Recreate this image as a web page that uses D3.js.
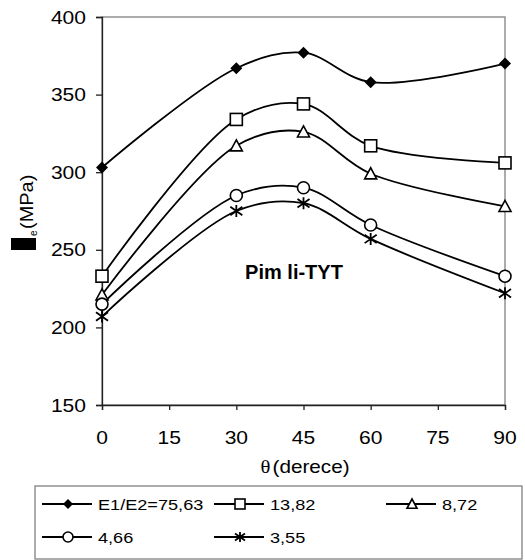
<!DOCTYPE html>
<html>
<head>
<meta charset="utf-8">
<script src="https://cdn.jsdelivr.net/npm/d3@7"></script>
<style>
  body { margin: 0; background: #fff; }
  svg text { font-family: "Liberation Sans", Arial, sans-serif; fill: #000; }
</style>
</head>
<body>
<svg id="canvas" width="525" height="560"></svg>
<script>
// data
var angles = [0, 30, 45, 60, 90];
var seriesNames = ['E1/E2=75,63', '13,82', '8,72', '4,66', '3,55'];
var markerTypes = ['diamond', 'square', 'triangle', 'circle', 'star'];
var s1 = [303, 367, 377, 358, 370];
var s2 = [233, 334, 344, 317, 306];
var s3 = [221, 317, 326, 299, 278];
var s4 = [215, 285, 290, 266, 233];
var s5 = [207, 275, 280, 257, 222];
var xTicks = [0, 15, 30, 45, 60, 75, 90];
var yTicks = [150, 200, 250, 300, 350, 400];

var allSeries = [s1, s2, s3, s4, s5];

var svg = d3.select('#canvas');
var plotLeft = 102, plotRight = 505, plotTop = 17, plotBottom = 405;

var x = d3.scaleLinear().domain([0, 90]).range([plotLeft, plotRight]);
var y = d3.scaleLinear().domain([150, 400]).range([plotBottom, plotTop]);

// plot frame (grey top/right)
svg.append('rect')
	.attr('x', plotLeft).attr('y', plotTop)
	.attr('width', plotRight - plotLeft).attr('height', plotBottom - plotTop)
	.attr('fill', 'none').attr('stroke', '#808080').attr('stroke-width', 1.3);

// axes
var xAxis = d3.axisBottom(x).tickValues(xTicks).tickSize(5).tickFormat('');
svg.append('g').attr('transform', 'translate(0,' + plotBottom + ')').call(xAxis)
	.call(function(g){ g.selectAll('line, path').attr('stroke', '#222').attr('stroke-width', 1.3); });
var yAxis = d3.axisLeft(y).tickValues(yTicks).tickSize(6).tickFormat('');
svg.append('g').attr('transform', 'translate(' + plotLeft + ',0)').call(yAxis)
	.call(function(g){ g.selectAll('line, path').attr('stroke', '#222').attr('stroke-width', 1.3); });

// stretched text helper
function label(px, py, str, size, anchor, sx){
	return svg.append('text')
		.attr('transform', 'translate(' + px + ',' + py + ') scale(' + sx + ',1)')
		.attr('text-anchor', anchor)
		.attr('font-size', size)
		.text(str);
}

yTicks.forEach(function(v){
	label(86, y(v) + 6.5, v, 18, 'end', 1.17);
});
xTicks.forEach(function(v){
	label(x(v), 444, v, 18, 'middle', 1.17);
});

// x title
var xt = svg.append('text')
	.attr('transform', 'translate(305,473) scale(1.15,1)')
	.attr('text-anchor', 'middle')
	.attr('font-size', 18);
xt.append('tspan').attr('font-family', '"Liberation Serif", serif').text('θ');
xt.append('tspan').attr('dx', 2).text('(derece)');

// y title: sigma shows as a filled box in the original
svg.append('rect').attr('x', 11).attr('y', 238).attr('width', 25).attr('height', 12).attr('fill', '#000');
svg.append('text')
	.attr('transform', 'translate(37,236) rotate(-90)')
	.attr('font-size', 10)
	.text('e');
svg.append('text')
	.attr('transform', 'translate(33,229) rotate(-90) scale(1.05,1)')
	.attr('font-size', 19)
	.text('(MPa)');

// annotation
svg.append('text')
	.attr('x', 294).attr('y', 279)
	.attr('text-anchor', 'middle')
	.attr('font-size', 20)
	.attr('font-weight', 'bold')
	.text('Pim li-TYT');

// lines
var line = d3.line()
	.x(function(d, i){ return x(angles[i]); })
	.y(function(d){ return y(d); })
	.curve(d3.curveCatmullRom.alpha(0.5));

allSeries.forEach(function(s){
	svg.append('path')
		.attr('d', line(s))
		.attr('fill', 'none')
		.attr('stroke', '#000')
		.attr('stroke-width', 1.8);
});

function drawMarker(g, type, cx, cy, r){
	if (type == 'diamond') {
		g.append('path')
			.attr('d', 'M' + cx + ',' + (cy - r) + 'L' + (cx + r) + ',' + cy + 'L' + cx + ',' + (cy + r) + 'L' + (cx - r) + ',' + cy + 'Z')
			.attr('fill', '#000');
	} else if (type == 'square') {
		g.append('rect')
			.attr('x', cx - r).attr('y', cy - r).attr('width', 2 * r).attr('height', 2 * r)
			.attr('fill', '#fff').attr('stroke', '#000').attr('stroke-width', 1.6);
	} else if (type == 'triangle') {
		g.append('path')
			.attr('d', 'M' + cx + ',' + (cy - r) + 'L' + (cx + r) + ',' + (cy + r * 0.85) + 'L' + (cx - r) + ',' + (cy + r * 0.85) + 'Z')
			.attr('fill', '#fff').attr('stroke', '#000').attr('stroke-width', 1.6);
	} else if (type == 'circle') {
		g.append('circle')
			.attr('cx', cx).attr('cy', cy).attr('r', r)
			.attr('fill', '#fff').attr('stroke', '#000').attr('stroke-width', 1.6);
	} else {
		g.append('path')
			.attr('d', 'M' + cx + ',' + (cy - r) + 'V' + (cy + r) +
				'M' + (cx - r) + ',' + (cy - r * 0.7) + 'L' + (cx + r) + ',' + (cy + r * 0.7) +
				'M' + (cx - r) + ',' + (cy + r * 0.7) + 'L' + (cx + r) + ',' + (cy - r * 0.7))
			.attr('stroke', '#000').attr('stroke-width', 1.8).attr('fill', 'none');
	}
}

var markers = svg.append('g');
allSeries.forEach(function(s, k){
	s.forEach(function(v, i){
		drawMarker(markers, markerTypes[k], x(angles[i]), y(v), 6);
	});
});

// legend
svg.append('rect')
	.attr('x', 35).attr('y', 486).attr('width', 487).attr('height', 73)
	.attr('fill', 'none').attr('stroke', '#808080').attr('stroke-width', 1.3);

var legendPos = [[42, 504], [214, 504], [386, 504], [42, 537], [214, 537]];
seriesNames.forEach(function(name, k){
	var p = legendPos[k];
	var g = svg.append('g');
	g.append('line')
		.attr('x1', p[0]).attr('x2', p[0] + 50)
		.attr('y1', p[1]).attr('y2', p[1])
		.attr('stroke', '#000').attr('stroke-width', 1.8);
	drawMarker(g, markerTypes[k], p[0] + 26, p[1], 5);
	label(p[0] + 56, p[1] + 6, name, 15.5, 'start', 1.17);
});
</script>
</body>
</html>
